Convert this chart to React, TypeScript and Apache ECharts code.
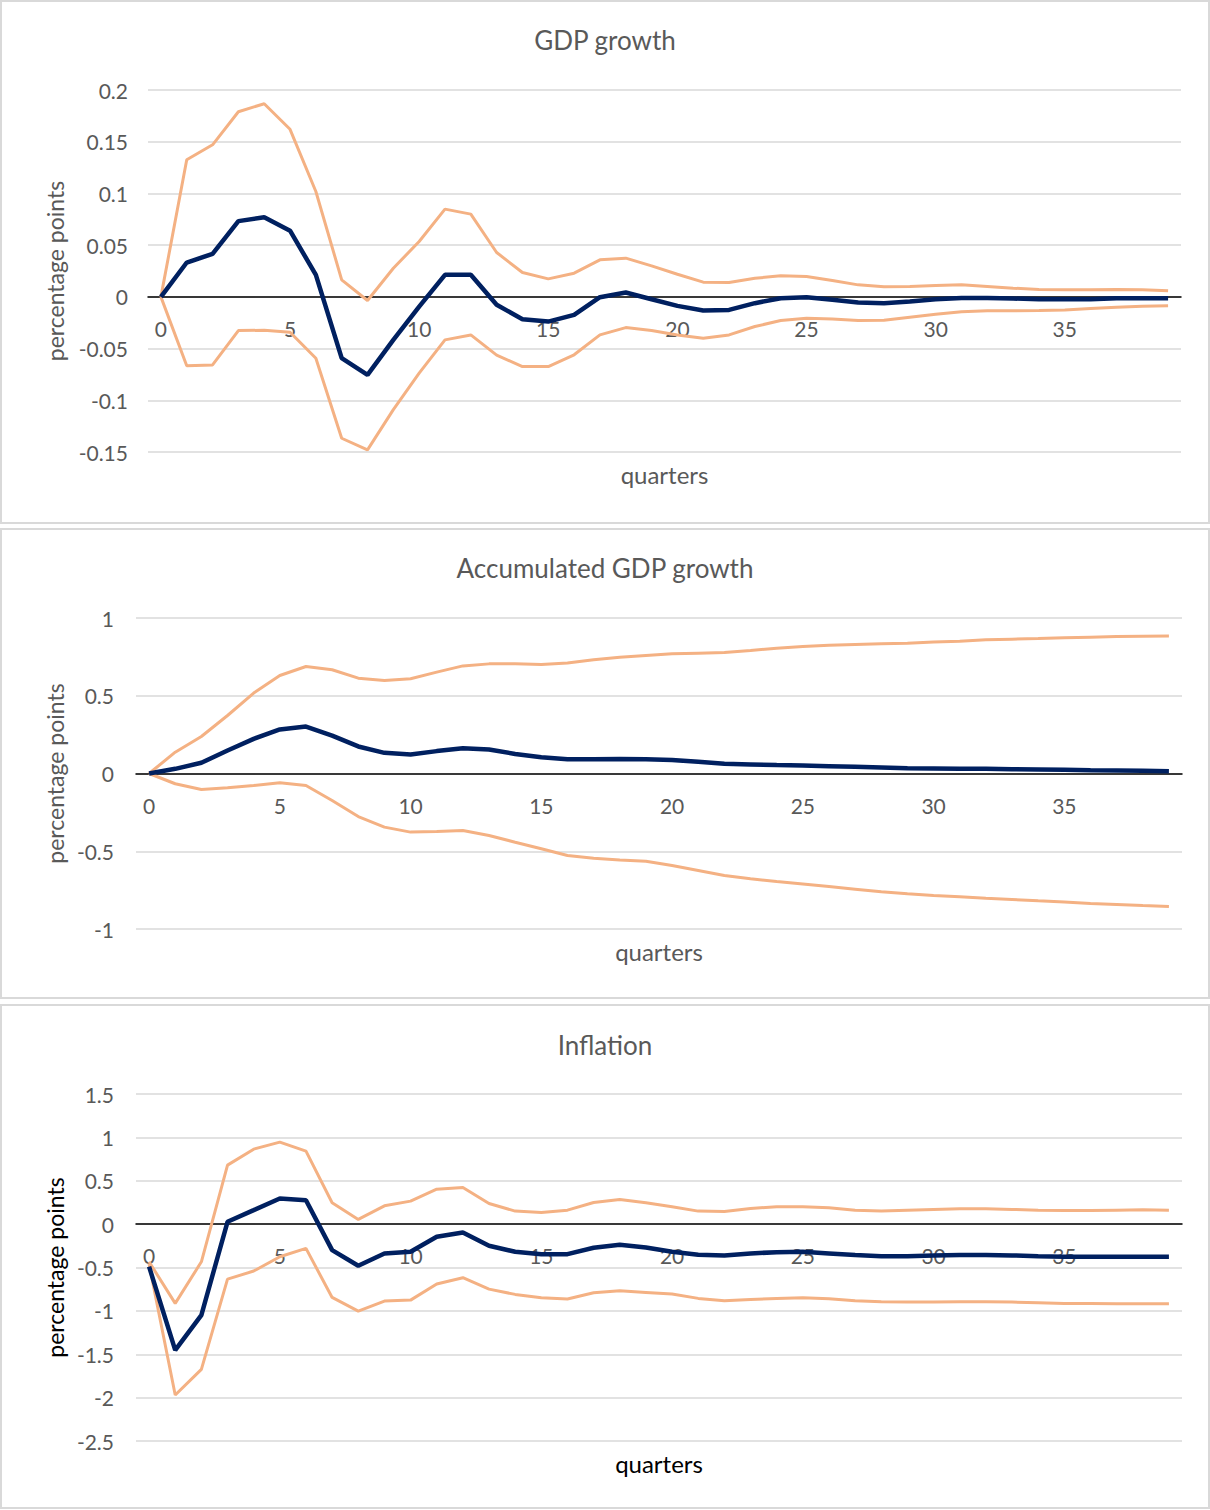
import React, { useEffect, useRef } from "react";
import * as echarts from "echarts";

// Horizon in quarters after the shock
const quarters: string[] = Array.from({ length: 40 }, (_, i) => String(i));

// GDP growth response (percentage points)
const gdpMain = [0, 0.0332, 0.0416, 0.0732, 0.077, 0.064, 0.0213, -0.0593, -0.0754, -0.0416, -0.0094, 0.0213, 0.0213, -0.0077, -0.0216, -0.0239, -0.0174, -0.0003, 0.0042, -0.0023, -0.0087, -0.0132, -0.0126, -0.0061, -0.0013, -0.0003, -0.0029, -0.0055, -0.0061, -0.0045, -0.0023, -0.001, -0.001, -0.0016, -0.0023, -0.0023, -0.0023, -0.0013, -0.0013, -0.0013];
const gdpUpper = [0, 0.1325, 0.147, 0.179, 0.1867, 0.162, 0.1019, 0.0164, -0.0035, 0.0277, 0.0535, 0.0848, 0.08, 0.0429, 0.0235, 0.0174, 0.0229, 0.0358, 0.0374, 0.03, 0.0219, 0.0142, 0.0139, 0.018, 0.0203, 0.0197, 0.0158, 0.0116, 0.0097, 0.01, 0.011, 0.0116, 0.01, 0.0084, 0.0071, 0.0068, 0.0068, 0.0071, 0.0068, 0.0058];
const gdpLower = [0, -0.0667, -0.0658, -0.0326, -0.0323, -0.0342, -0.0593, -0.1367, -0.148, -0.109, -0.0738, -0.0416, -0.0368, -0.0564, -0.0674, -0.0674, -0.056, -0.0368, -0.0297, -0.0326, -0.0368, -0.04, -0.0368, -0.0287, -0.0229, -0.0206, -0.0213, -0.0229, -0.0226, -0.0197, -0.0168, -0.0145, -0.0135, -0.0135, -0.0132, -0.0126, -0.0113, -0.01, -0.009, -0.0087];

// Accumulated GDP growth response
const accMain = [0, 0.03, 0.069, 0.148, 0.223, 0.283, 0.302, 0.244, 0.174, 0.133, 0.122, 0.144, 0.163, 0.154, 0.126, 0.105, 0.092, 0.091, 0.093, 0.092, 0.087, 0.075, 0.062, 0.058, 0.054, 0.051, 0.047, 0.043, 0.039, 0.034, 0.032, 0.03, 0.03, 0.028, 0.026, 0.024, 0.021, 0.019, 0.017, 0.015];
const accUpper = [0, 0.137, 0.238, 0.373, 0.517, 0.63, 0.688, 0.667, 0.613, 0.598, 0.609, 0.652, 0.692, 0.705, 0.705, 0.701, 0.71, 0.731, 0.748, 0.759, 0.77, 0.774, 0.778, 0.791, 0.806, 0.817, 0.825, 0.83, 0.834, 0.838, 0.845, 0.851, 0.86, 0.864, 0.868, 0.873, 0.877, 0.881, 0.883, 0.885];
const accLower = [0, -0.066, -0.103, -0.092, -0.077, -0.06, -0.077, -0.174, -0.277, -0.345, -0.377, -0.373, -0.367, -0.399, -0.442, -0.484, -0.527, -0.545, -0.556, -0.564, -0.592, -0.624, -0.656, -0.677, -0.695, -0.71, -0.727, -0.744, -0.761, -0.774, -0.785, -0.793, -0.802, -0.81, -0.819, -0.827, -0.836, -0.842, -0.849, -0.855];

// Inflation response
const infMain = [-0.49, -1.452, -1.048, 0.027, 0.161, 0.296, 0.276, -0.3, -0.48, -0.338, -0.319, -0.146, -0.096, -0.25, -0.319, -0.346, -0.346, -0.273, -0.238, -0.269, -0.319, -0.353, -0.361, -0.338, -0.323, -0.319, -0.338, -0.357, -0.369, -0.369, -0.361, -0.357, -0.357, -0.361, -0.369, -0.376, -0.376, -0.376, -0.376, -0.376];
const infUpper = [-0.434, -0.914, -0.434, 0.68, 0.864, 0.945, 0.841, 0.246, 0.054, 0.211, 0.265, 0.403, 0.422, 0.238, 0.15, 0.134, 0.161, 0.25, 0.284, 0.246, 0.2, 0.15, 0.146, 0.18, 0.2, 0.2, 0.188, 0.161, 0.15, 0.161, 0.169, 0.177, 0.177, 0.169, 0.161, 0.157, 0.157, 0.161, 0.165, 0.161];
const infLower = [-0.46, -1.97, -1.674, -0.634, -0.541, -0.376, -0.28, -0.845, -1.002, -0.887, -0.876, -0.691, -0.618, -0.749, -0.81, -0.849, -0.864, -0.791, -0.768, -0.787, -0.806, -0.856, -0.883, -0.868, -0.856, -0.849, -0.86, -0.883, -0.895, -0.899, -0.899, -0.895, -0.895, -0.899, -0.906, -0.914, -0.914, -0.918, -0.918, -0.918];

// Panel titles and axis ranges
const panelTitles = ["GDP growth", "Accumulated GDP growth", "Inflation"];
const yMins = [-0.15, -1, -2.5];
const yMaxs = [0.2, 1, 1.5];
const yIntervals = [0.05, 0.5, 0.5];

const FONT = "Lato, 'Noto Sans', sans-serif";
const NAVY = "#002060";
const PEACH = "#F4B183";
const GREY_TEXT = "#595959";

export default function App() {
  const ref = useRef<HTMLDivElement>(null);

  useEffect(() => {
    document.body.style.margin = "0";
    if (!ref.current) return;
    const chart = echarts.init(ref.current, null, { renderer: "svg" });

    const grids = [
      { left: 148, right: 29, top: 90, height: 362 },
      { left: 136, right: 28, top: 618, height: 311 },
      { left: 136, right: 28, top: 1094, height: 347 },
    ];

    const panels = [
      { main: gdpMain, upper: gdpUpper, lower: gdpLower },
      { main: accMain, upper: accUpper, lower: accLower },
      { main: infMain, upper: infUpper, lower: infLower },
    ];

    // The category axis sits on the zero line: lift it from the grid's
    // bottom edge by the pixel distance of zero above the minimum.
    const xAxes = grids.map((g, k) => ({
      type: "category",
      gridIndex: k,
      position: "bottom",
      offset: -(g.height * (0 - yMins[k])) / (yMaxs[k] - yMins[k]),
      data: quarters,
      boundaryGap: true,
      axisLine: { onZero: false, lineStyle: { color: "#000", width: 1.5 } },
      axisTick: { show: false },
      axisLabel: {
        interval: (idx: number) => idx % 5 === 0,
        margin: 21,
        color: GREY_TEXT,
        fontSize: 21,
        fontFamily: FONT,
      },
      splitLine: { show: false },
      z: 1,
    }));

    const yAxes = grids.map((_, k) => ({
      type: "value",
      gridIndex: k,
      min: yMins[k],
      max: yMaxs[k],
      interval: yIntervals[k],
      axisLine: { show: false },
      axisTick: { show: false },
      axisLabel: {
        margin: k === 0 ? 20 : 22,
        color: GREY_TEXT,
        fontSize: 21,
        fontFamily: FONT,
        formatter: (v: number) => String(Math.round(v * 100) / 100),
      },
      splitLine: { lineStyle: { color: "#d9d9d9", width: 1.5 } },
    }));

    const series: any[] = [];
    panels.forEach((p, k) => {
      const base = {
        type: "line",
        xAxisIndex: k,
        yAxisIndex: k,
        symbol: "none",
        showSymbol: false,
      };
      series.push({ ...base, name: "upper", data: p.upper, lineStyle: { color: PEACH, width: 3 }, z: 3 });
      series.push({ ...base, name: "lower", data: p.lower, lineStyle: { color: PEACH, width: 3 }, z: 3 });
      series.push({ ...base, name: "response", data: p.main, lineStyle: { color: NAVY, width: 4.5 }, z: 4 });
    });

    const borders = [
      { y: 1, h: 522 },
      { y: 529, h: 469 },
      { y: 1005, h: 503 },
    ];
    const titleY = [40, 568, 1045];
    const nameX = 55;
    const nameColors = [GREY_TEXT, GREY_TEXT, "#000"];

    const graphic: any[] = [];
    borders.forEach((b) => {
      graphic.push({
        type: "rect",
        shape: { x: 1, y: b.y, width: 1208, height: b.h },
        style: { fill: "none", stroke: "#d9d9d9", lineWidth: 2 },
        z: -1,
      });
    });
    grids.forEach((g, k) => {
      const cx = g.left + (1210 - g.left - g.right) / 2;
      graphic.push({
        type: "text",
        x: 605,
        y: titleY[k],
        style: {
          text: panelTitles[k],
          align: "center",
          verticalAlign: "middle",
          fill: GREY_TEXT,
          font: `26px ${FONT}`,
        },
      });
      graphic.push({
        type: "text",
        x: nameX,
        y: g.top + g.height / 2,
        rotation: Math.PI / 2,
        style: {
          text: "percentage points",
          align: "center",
          verticalAlign: "middle",
          fill: nameColors[k],
          font: `23px ${FONT}`,
        },
      });
      graphic.push({
        type: "text",
        x: cx,
        y: g.top + g.height + 22,
        style: {
          text: "quarters",
          align: "center",
          verticalAlign: "middle",
          fill: nameColors[k],
          font: `24px ${FONT}`,
        },
      });
    });

    chart.setOption({
      animation: false,
      backgroundColor: "#ffffff",
      grid: grids,
      xAxis: xAxes,
      yAxis: yAxes,
      series,
      graphic,
    });

    return () => chart.dispose();
  }, []);

  return <div ref={ref} style={{ width: 1210, height: 1510 }} />;
}
